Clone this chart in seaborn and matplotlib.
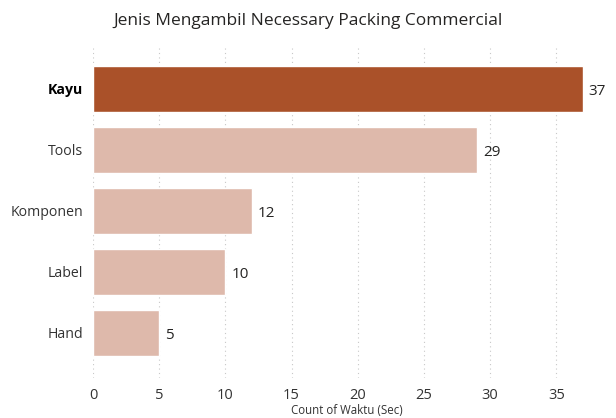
import matplotlib
matplotlib.use("Agg")
import matplotlib.pyplot as plt
import seaborn as sns
import pandas as pd

categories = ["Kayu", "Tools", "Komponen", "Label", "Hand"]
values = [37, 29, 12, 10, 5]
highlight = "Kayu"
x_ticks = [0, 5, 10, 15, 20, 25, 30, 35]

sns.set_theme(style="white")
plt.rcParams['font.family'] = ['Open Sans', 'DejaVu Sans']

df = pd.DataFrame({"cat": categories, "val": values})
dark = "#AA5129"
light = "#DEB9AB"
palette = {c: (dark if c == highlight else light) for c in categories}

fig = plt.figure(figsize=(6.16, 4.18), dpi=100)
ax = fig.add_axes([93/616, 40/418, (600-93)/616, (378-45)/418])

sns.barplot(data=df, y="cat", x="val", hue="cat", palette=palette, order=categories,
            hue_order=categories, orient="h", width=0.754, legend=False, ax=ax,
            saturation=1)

ax.set_xlim(0, 38.3)
ax.set_ylim(4.74, -0.72)
ax.set_xticks(x_ticks)
ax.set_xticklabels([str(t) for t in x_ticks], fontsize=10.5, color="#333333")
ax.tick_params(axis="x", length=0, pad=7)
ax.tick_params(axis="y", length=0, pad=7)
for lbl in ax.get_yticklabels():
    lbl.set_fontsize(10.2)
    if lbl.get_text() == highlight:
        lbl.set_fontweight("bold")
        lbl.set_color("#000000")
    else:
        lbl.set_color("#333333")

ax.xaxis.grid(True, linestyle=(0, (1, 3)), color="#C8C8C8", linewidth=0.8)
ax.set_axisbelow(True)
for s in ax.spines.values():
    s.set_visible(False)

for i, v in enumerate(values):
    ax.text(v + 0.45, i + 0.04, str(v), va="center", ha="left", fontsize=11, color="#252423")

ax.set_ylabel("")
ax.set_xlabel("Count of Waktu (Sec)", fontsize=8.3, color="#333333", labelpad=1)
fig.text(0.5, 1 - 21/418, "Jenis Mengambil Necessary Packing Commercial",
         ha="center", va="center", fontsize=12.5, color="#252423", fontweight="medium")

fig.savefig("out.png", dpi=100)
